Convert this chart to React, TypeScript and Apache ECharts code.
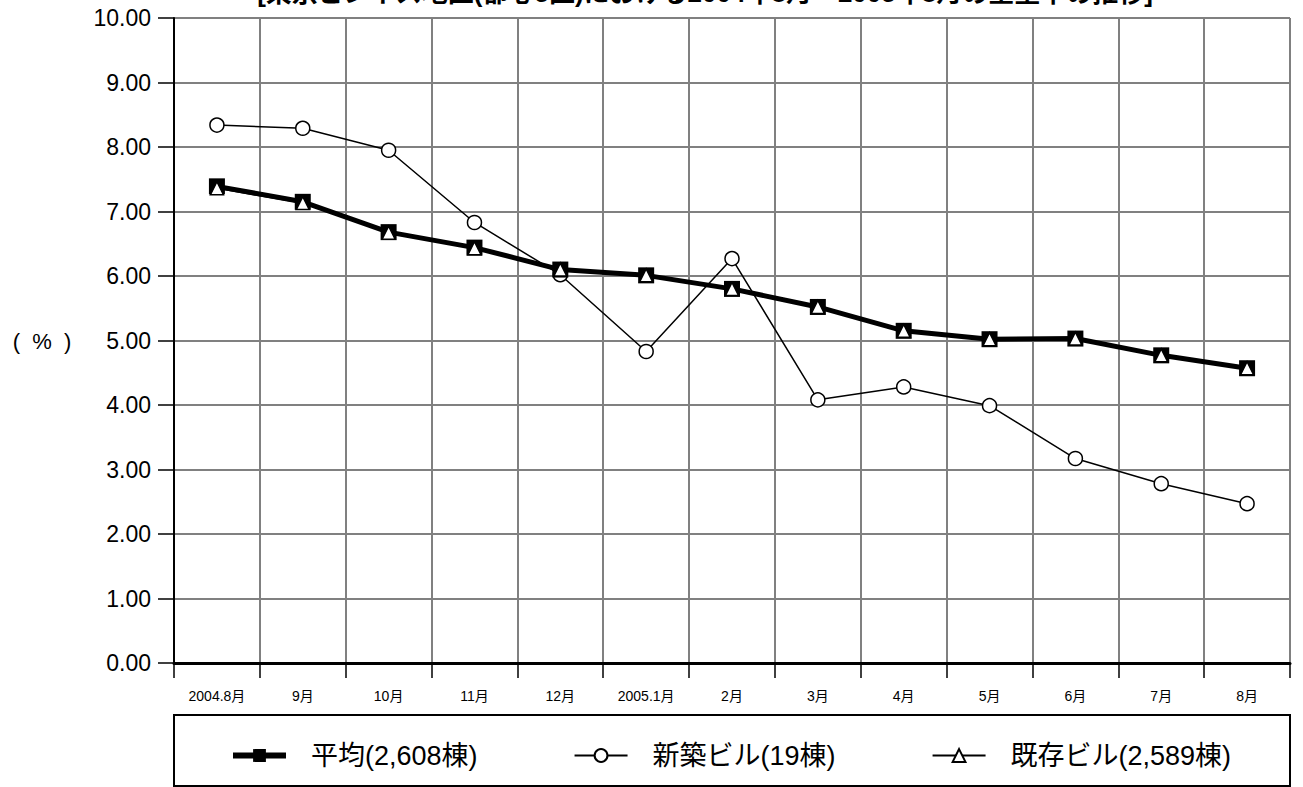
import React, { useEffect, useRef } from "react";
import * as echarts from "echarts";

const categories = ["2004.8月", "9月", "10月", "11月", "12月", "2005.1月", "2月", "3月", "4月", "5月", "6月", "7月", "8月"];
const averageValues = [7.39, 7.15, 6.68, 6.44, 6.1, 6.01, 5.8, 5.52, 5.15, 5.02, 5.03, 4.77, 4.57];
const newBuildingValues = [8.34, 8.29, 7.95, 6.83, 6.02, 4.83, 6.27, 4.08, 4.28, 3.99, 3.17, 2.78, 2.47];
const existingBuildingValues = [7.36, 7.13, 6.67, 6.43, 6.1, 6.01, 5.8, 5.52, 5.15, 5.02, 5.03, 4.77, 4.57];
const seriesNames = ["平均(2,608棟)", "新築ビル(19棟)", "既存ビル(2,589棟)"];
const titleText = "[東京ビジネス地区(都心5区)における2004年8月～2005年8月の空室率の推移]";

const FONT = "'Liberation Sans', 'Noto Sans CJK JP', sans-serif";

export default function App() {
  const ref = useRef<HTMLDivElement>(null);
  useEffect(() => {
    if (!ref.current) return;
    const chart = echarts.init(ref.current, null, { renderer: "svg" });
    chart.setOption({
      animation: false,
      backgroundColor: "#ffffff",
      textStyle: { fontFamily: FONT },
      grid: { left: 174, right: 13, top: 18, bottom: 124, show: false },
      legend: {
        data: [
          { name: seriesNames[0], lineStyle: { width: 6 } },
          { name: seriesNames[1] },
          { name: seriesNames[2] },
        ],
        left: 225,
        top: 737,
        itemWidth: 53,
        itemHeight: 16,
        itemGap: 96,
        textStyle: { fontFamily: FONT, fontSize: 27, color: "#000", padding: [0, 0, 0, 20] },
        selectedMode: false,
      },
      xAxis: {
        type: "category",
        data: categories,
        boundaryGap: true,
        axisLine: { show: true, lineStyle: { color: "#000", width: 3 } },
        axisTick: { show: true, length: 15, lineStyle: { color: "#000", width: 1.5 } },
        axisLabel: { fontFamily: FONT, fontSize: 14, color: "#000", margin: 26, interval: 0 },
        splitLine: { show: true, lineStyle: { color: "#808080", width: 2 } },
      },
      yAxis: {
        type: "value",
        min: 0,
        max: 10,
        interval: 1,
        axisLine: { show: true, lineStyle: { color: "#000", width: 2 } },
        axisTick: { show: true, length: 16, lineStyle: { color: "#000", width: 1.5 } },
        axisLabel: {
          fontFamily: FONT,
          fontSize: 23,
          color: "#000",
          margin: 23,
          formatter: (v: number) => v.toFixed(2),
        },
        splitLine: { show: true, lineStyle: { color: "#808080", width: 2 } },
      },
      graphic: [
        {
          type: "text",
          x: 705,
          y: 6,
          style: {
            text: titleText,
            textAlign: "center",
            textVerticalAlign: "bottom",
            fontFamily: FONT,
            fontWeight: "bold",
            fontSize: 26,
            fill: "#000",
          },
        },
        {
          type: "text",
          x: 42,
          y: 341,
          style: {
            text: "(  %  )",
            textAlign: "center",
            textVerticalAlign: "middle",
            fontFamily: FONT,
            fontSize: 22,
            fill: "#000",
          },
        },
        {
          type: "rect",
          z: -1,
          shape: { x: 174, y: 715, width: 1116, height: 71 },
          style: { fill: "none", stroke: "#000", lineWidth: 2 },
        },
      ],
      series: [
        {
          name: seriesNames[1],
          type: "line",
          data: newBuildingValues,
          z: 2,
          symbol: "circle",
          symbolSize: 14,
          showAllSymbol: true,
          lineStyle: { color: "#000", width: 1.5 },
          itemStyle: { color: "#fff", borderColor: "#000", borderWidth: 1.5 },
        },
        {
          name: seriesNames[0],
          type: "line",
          data: averageValues,
          z: 3,
          symbol: "rect",
          symbolSize: 16,
          showAllSymbol: true,
          lineStyle: { color: "#000", width: 5 },
          itemStyle: { color: "#000", borderColor: "#000", borderWidth: 0 },
        },
        {
          name: seriesNames[2],
          type: "line",
          data: existingBuildingValues,
          z: 4,
          symbol: "triangle",
          symbolSize: 13,
          showAllSymbol: true,
          lineStyle: { color: "#000", width: 1.5 },
          itemStyle: { color: "#fff", borderColor: "#000", borderWidth: 1.5 },
        },
      ],
    });
    return () => chart.dispose();
  }, []);
  return (
    <div
      ref={ref}
      style={{ position: "fixed", left: 0, top: 0, width: 1303, height: 787, background: "#fff" }}
    />
  );
}
